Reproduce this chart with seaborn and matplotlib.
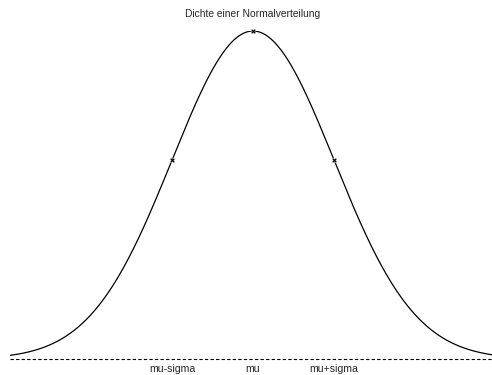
import numpy as np
import pandas as pd
import matplotlib
matplotlib.use("Agg")
import matplotlib.pyplot as plt
import seaborn as sns

# Parameters of the plotted normal distribution
mu = 0.0
sigma = 1.0
x_range = (-3.0, 2.95)

tick_positions = [mu - sigma, mu, mu + sigma]
tick_labels = ["mu-sigma", "mu", "mu+sigma"]
title = "Dichte einer Normalverteilung"

sns.set_theme(style="white")
plt.rcParams["font.family"] = ["Liberation Sans", "DejaVu Sans"]

def density(x):
    return np.exp(-0.5 * ((x - mu) / sigma) ** 2) / (sigma * np.sqrt(2 * np.pi))

xs = np.linspace(x_range[0], x_range[1], 600)
curve = pd.DataFrame({"x": xs, "y": density(xs)})
points = pd.DataFrame({"x": tick_positions, "y": density(np.array(tick_positions))})

W, H = 492, 375
fig = plt.figure(figsize=(W / 100, H / 100), dpi=100)
ax = fig.add_axes([10 / W, 16 / H, 482 / W, 328 / H])

sns.lineplot(data=curve, x="x", y="y", ax=ax, color="black", linewidth=0.9)
sns.scatterplot(data=points, x="x", y="y", ax=ax, marker="X", s=14,
                color="black", linewidth=0.3, zorder=3, clip_on=False)
ax.axhline(0, color="black", linewidth=0.8, linestyle=(0, (3, 2)), clip_on=False)

ax.set_xlim(*x_range)
ax.set_ylim(0, density(mu))
for side in ["top", "right", "left", "bottom"]:
    ax.spines[side].set_visible(False)
ax.set_xticks(tick_positions)
ax.set_xticklabels(tick_labels, fontsize=7.6)
ax.tick_params(axis="x", length=0, pad=3.5)
ax.set_yticks([])
ax.set_xlabel("")
ax.set_ylabel("")
ax.set_facecolor("white")

fig.text(253 / W, 1 - 14 / H, title, ha="center", va="center", fontsize=7.4)

fig.savefig("out.png", dpi=100, facecolor="white")
